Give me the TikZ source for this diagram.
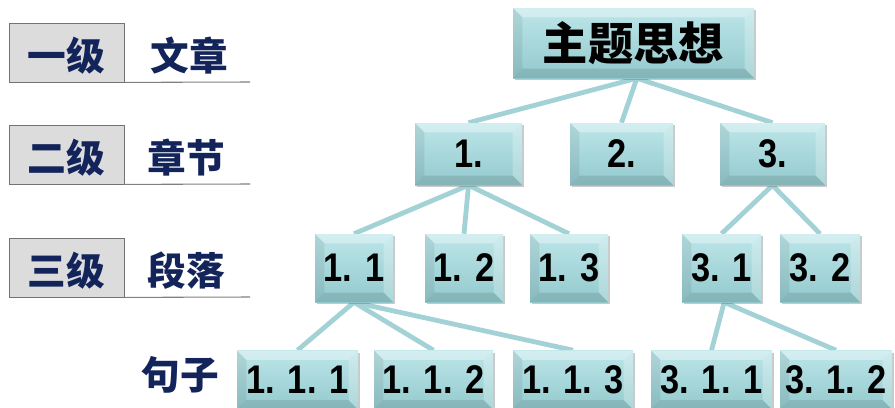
\documentclass[tikz,border=0pt]{standalone}
\usepackage{fontspec}
\setmainfont{Liberation Sans}
\newfontfamily\cjk{Noto Sans CJK SC}
\newfontfamily\numf[FakeStretch=0.86]{Liberation Sans}
\usetikzlibrary{calc,shadows,backgrounds}
\definecolor{navy}{HTML}{13245A}
\definecolor{bevtop}{HTML}{BDE6E9}
\definecolor{bevbot}{HTML}{93C9CD}
\definecolor{linkc}{HTML}{A3D2D6}
\definecolor{lvlgray}{HTML}{DCDCDC}
\tikzset{
  bev/.style={draw=none, inner sep=0pt, top color=bevtop, bottom color=bevbot,
    drop shadow={shadow xshift=1.2pt, shadow yshift=-1.8pt, opacity=0.3, fill=black!70},
    font=\numf\bfseries\fontsize{30}{30}\selectfont, text=black,
    path picture={
      \fill[white, opacity=0.35] (path picture bounding box.north west) -- (path picture bounding box.north east)
        -- ($(path picture bounding box.north east)+(-7pt,-7pt)$) -- ($(path picture bounding box.north west)+(7pt,-7pt)$) -- cycle;
      \fill[black, opacity=0.07] (path picture bounding box.north west) -- ($(path picture bounding box.north west)+(7pt,-7pt)$)
        -- ($(path picture bounding box.south west)+(7pt,7pt)$) -- (path picture bounding box.south west) -- cycle;
      \fill[white, opacity=0.25] (path picture bounding box.north east) -- ($(path picture bounding box.north east)+(-7pt,-7pt)$)
        -- ($(path picture bounding box.south east)+(-7pt,7pt)$) -- (path picture bounding box.south east) -- cycle;
      \fill[black, opacity=0.1] (path picture bounding box.south west) -- ($(path picture bounding box.south west)+(7pt,7pt)$)
        -- ($(path picture bounding box.south east)+(-7pt,7pt)$) -- (path picture bounding box.south east) -- cycle;
    }},
  lvlbox/.style={draw=black!55, line width=0.6pt, fill=lvlgray, inner sep=0pt,
    minimum width=86.25pt, minimum height=44.25pt},
  lvltxt/.style={font=\cjk\bfseries\fontsize{29}{29}\selectfont, text=navy, inner sep=0pt},
  uline/.style={draw=black!50, line width=0.8pt},
  link/.style={draw=linkc, line width=3.6pt}
}
\begin{document}
\begin{tikzpicture}[x=0.75pt,y=-0.75pt]
\useasboundingbox (0,0) rectangle (895,407);

% left level labels
\node[lvlbox] (b1) at (66.5,52.5) {};
\node[lvltxt] (t1) at (66.5,55.5) {一级};
\node[lvltxt] (w1) at (189,56) {文章};
\coordinate (e1) at (250,82);
\draw[uline] (b1.south east) -- (e1);

\node[lvlbox] (b2) at (66.5,154.5) {};
\node[lvltxt] (t2) at (66.5,157.5) {二级};
\node[lvltxt] (w2) at (186,158) {章节};
\coordinate (e2) at (250,184);
\draw[uline] (b2.south east) -- (e2);

\node[lvlbox] (b3) at (66.5,267.5) {};
\node[lvltxt] (t3) at (66.5,270.5) {三级};
\node[lvltxt] (w3) at (186,271) {段落};
\coordinate (e3) at (250,297);
\draw[uline] (b3.south east) -- (e3);

\node[lvltxt] (w4) at (180,375) {句子};

% tree boxes
\node[bev, minimum width=180.75pt, minimum height=52.5pt, font=\cjk\bfseries\fontsize{34}{34}\selectfont] (root) at (633.5,43) {主题思想};

\node[bev, minimum width=80.25pt, minimum height=46.5pt] (n1) at (468.5,154) {1.};
\node[bev, minimum width=77.25pt, minimum height=46.5pt] (n2) at (621.5,154) {2.};
\node[bev, minimum width=78.75pt, minimum height=46.5pt] (n3) at (772.5,154) {3.};

\node[bev, minimum width=58.5pt, minimum height=51pt] (n11) at (354,268) {1. 1};
\node[bev, minimum width=58.5pt, minimum height=51pt] (n12) at (464,268) {1. 2};
\node[bev, minimum width=58.5pt, minimum height=51pt] (n13) at (569,268) {1. 3};
\node[bev, minimum width=59.25pt, minimum height=51pt] (n31) at (721.5,268) {3. 1};
\node[bev, minimum width=60pt, minimum height=51pt] (n32) at (820,268) {3. 2};

\node[bev, minimum width=90.75pt, minimum height=44.25pt] (n111) at (297.5,380) {1. 1. 1};
\node[bev, minimum width=89.25pt, minimum height=44.25pt] (n112) at (433.5,380) {1. 1. 2};
\node[bev, minimum width=90pt, minimum height=44.25pt] (n113) at (573,380) {1. 1. 3};
\node[bev, minimum width=90.75pt, minimum height=44.25pt] (n311) at (711.5,380) {3. 1. 1};
\node[bev, minimum width=84pt, minimum height=44.25pt] (n312) at (836,380) {3. 1. 2};

% connectors
\begin{pgfonlayer}{background}
\draw[link] ([xshift=2.5pt]root.south) -- (n1.north);
\draw[link] ([xshift=2.5pt]root.south) -- (n2.north);
\draw[link] ([xshift=2.5pt]root.south) -- (n3.north);
\draw[link] (n1.south) -- (n11.north);
\draw[link] (n1.south) -- (n12.north);
\draw[link] (n1.south) -- (n13.north);
\draw[link] (n3.south) -- (n31.north);
\draw[link] (n3.south) -- (n32.north);
\draw[link] (n11.south) -- (n111.north);
\draw[link] (n11.south) -- (n112.north);
\draw[link] (n11.south) -- (n113.north);
\draw[link] ([xshift=2pt]n31.south) -- (n311.north);
\draw[link] ([xshift=2pt]n31.south) -- (n312.north);
\end{pgfonlayer}
\end{tikzpicture}
\end{document}
